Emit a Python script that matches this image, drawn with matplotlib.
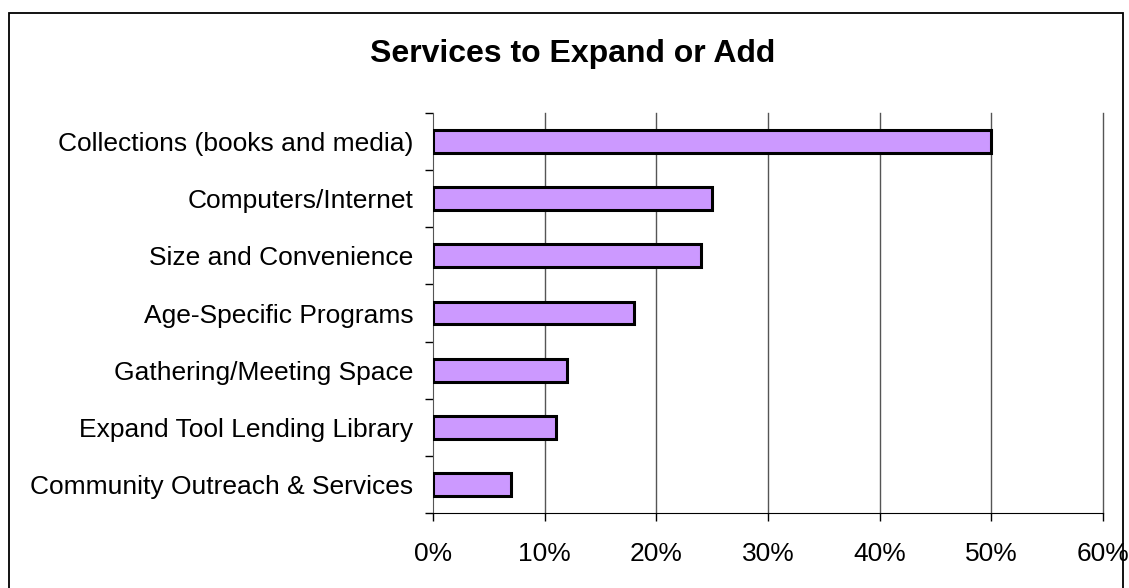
import matplotlib
matplotlib.use("Agg")
import matplotlib.pyplot as plt
from matplotlib.patches import Rectangle
from matplotlib.ticker import FuncFormatter, FixedLocator

plt.rcParams['font.family'] = ['Liberation Sans', 'DejaVu Sans']

# survey responses, top to bottom
services = ["Collections (books and media)", "Computers/Internet",
            "Size and Convenience", "Age-Specific Programs",
            "Gathering/Meeting Space", "Expand Tool Lending Library",
            "Community Outreach & Services"]
shares = [50, 25, 24, 18, 12, 11, 7]
x_ticks = [0, 10, 20, 30, 40, 50, 60]

W, H = 1129, 588
fig = plt.figure(figsize=(W / 100, H / 100), dpi=100)

# outer frame around the chart
fig.patches.append(Rectangle((9 / W, -0.1), (1123 - 9) / W, 1.1 - 13 / H,
                             transform=fig.transFigure, fill=False,
                             edgecolor='black', linewidth=1.3))

ax = fig.add_axes([433 / W, 1 - 513 / H, (1103 - 433) / W, (513 - 113) / H])

pos = list(range(len(services)))[::-1]
ax.barh(pos, shares, height=0.4, color='#cc99ff', edgecolor='black',
        linewidth=2.2, zorder=3)

ax.set_xlim(0, 60)
ax.set_ylim(-0.5, len(services) - 0.5)
ax.set_xticks(x_ticks)
ax.xaxis.set_major_formatter(FuncFormatter(lambda v, p: f"{v:.0f}%"))
ax.set_yticks(pos)
ax.set_yticklabels(services)
ax.yaxis.set_minor_locator(FixedLocator([p + 0.5 for p in range(-1, len(services))]))

ax.tick_params(axis='y', which='major', length=0, labelsize=19, pad=14)
ax.tick_params(axis='y', which='minor', length=6, width=1, color='black')
ax.tick_params(axis='x', length=6, width=1, labelsize=19, pad=15, color='black')

# vertical gridlines, including the one on the right edge
for x in x_ticks[1:]:
    ax.axvline(x, color='#555555', linewidth=1, zorder=0, clip_on=False)
for s in ['top', 'right']:
    ax.spines[s].set_visible(False)
ax.spines['left'].set_color('#555555')
ax.spines['bottom'].set_color('black')

fig.text(573 / W, 1 - 54 / H, "Services to Expand or Add", ha='center',
         va='center', fontsize=23, fontweight='bold')

fig.savefig("out.png", dpi=100)
